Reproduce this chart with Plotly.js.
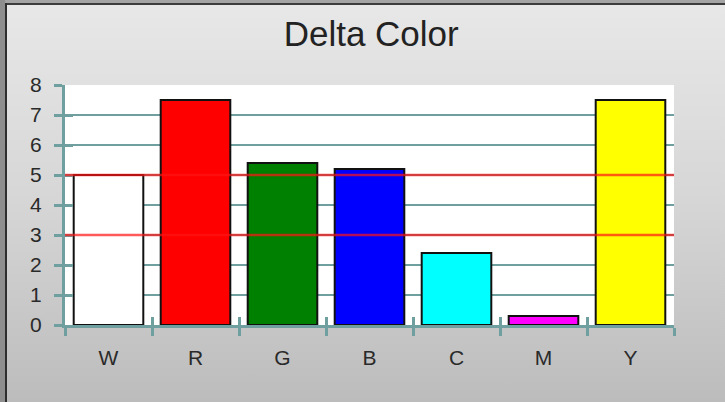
<!DOCTYPE html>
<html>
<head>
<meta charset="utf-8">
<script src="https://cdn.plot.ly/plotly-3.0.1.min.js"></script>
<style>
  html, body { margin:0; padding:0; }
  body { width:725px; height:402px; overflow:hidden; position:relative;
         background: linear-gradient(#e8e8e8 0%, #d6d6d6 50%, #bcbcbc 100%); }
  #topbar { position:absolute; left:0; top:0; width:725px; height:3px; background:#a4a4a4; }
  #topline { position:absolute; left:0; top:3px; width:725px; height:2px; background:#3c3c3c; }
  #leftbar { position:absolute; left:0; top:0; width:5px; height:402px; background:#8e8e8e; }
  #leftline { position:absolute; left:5px; top:3px; width:2px; height:399px; background:#2e2e2e; }
  #chart { position:absolute; left:0; top:0; width:725px; height:402px; }
</style>
</head>
<body>
<div id="chart"></div>
<div id="topbar"></div><div id="topline"></div>
<div id="leftbar"></div><div id="leftline"></div>
<script>
const categories = ['W', 'R', 'G', 'B', 'C', 'M', 'Y'];
const deltaValues = [5.0, 7.5, 5.4, 5.2, 2.4, 0.3, 7.5];
const barColors = ['#ffffff', '#ff0000', '#008000', '#0000ff', '#00ffff', '#ff00ff', '#ffff00'];
const thresholds = [3, 5];
const yTicks = [0, 1, 2, 3, 4, 5, 6, 7, 8];

const teal = '#6f9f9f';
const tickFont = { family: 'Liberation Sans, Arial, sans-serif', size: 21, color: '#2a2a2a' };

const traces = [
  {
    type: 'bar', x: categories, y: deltaValues, width: 0.8,
    marker: { color: barColors, line: { color: '#111111', width: 2 } },
    hoverinfo: 'skip'
  },
  {
    type: 'scatter', mode: 'markers', x: categories, y: deltaValues,
    xaxis: 'x2', yaxis: 'y2', marker: { opacity: 0 }, hoverinfo: 'skip', showlegend: false
  }
];

const shapes = thresholds.map(t => ({
  type: 'line', xref: 'paper', x0: 0, x1: 1, yref: 'y', y0: t, y1: t,
  line: { color: 'rgba(255,20,20,0.7)', width: 2.5 }, layer: 'above'
}));

const layout = {
  width: 725, height: 402,
  margin: { l: 65, r: 51, t: 85, b: 77 },
  paper_bgcolor: 'rgba(0,0,0,0)',
  plot_bgcolor: '#ffffff',
  showlegend: false,
  title: { text: 'Delta Color', x: 0.512, xanchor: 'center', y: 0.917, yanchor: 'middle',
           font: { family: 'Liberation Sans, Arial, sans-serif', size: 35, color: '#222222' } },
  xaxis: {
    type: 'category', range: [-0.5, 6.5], tickson: 'boundaries',
    ticks: 'outside', ticklen: 8, tickwidth: 3, tickcolor: teal,
    showline: true, linecolor: teal, linewidth: 3,
    showgrid: false, zeroline: false, tickfont: tickFont, ticklabelstandoff: 12,
    fixedrange: true
  },
  yaxis: {
    range: [0, 8], tickvals: yTicks, ticks: 'outside', ticklen: 8, tickwidth: 3, tickcolor: teal,
    showline: true, linecolor: teal, linewidth: 3,
    showgrid: true, gridcolor: teal, gridwidth: 2, zeroline: false,
    tickfont: tickFont, ticklabelstandoff: 8, fixedrange: true
  },
  xaxis2: {
    type: 'category', overlaying: 'x', range: [-0.5, 6.5], tickson: 'boundaries',
    ticks: 'inside', ticklen: 8, tickwidth: 3, tickcolor: teal,
    showticklabels: false, showgrid: false, zeroline: false, showline: false, fixedrange: true
  },
  yaxis2: {
    overlaying: 'y', range: [0, 8], tickvals: yTicks,
    ticks: 'inside', ticklen: 8, tickwidth: 3, tickcolor: teal,
    showticklabels: false, showgrid: false, zeroline: false, showline: false, fixedrange: true
  },
  shapes: shapes
};

Plotly.newPlot('chart', traces, layout, { displayModeBar: false, staticPlot: true });
</script>
</body>
</html>
